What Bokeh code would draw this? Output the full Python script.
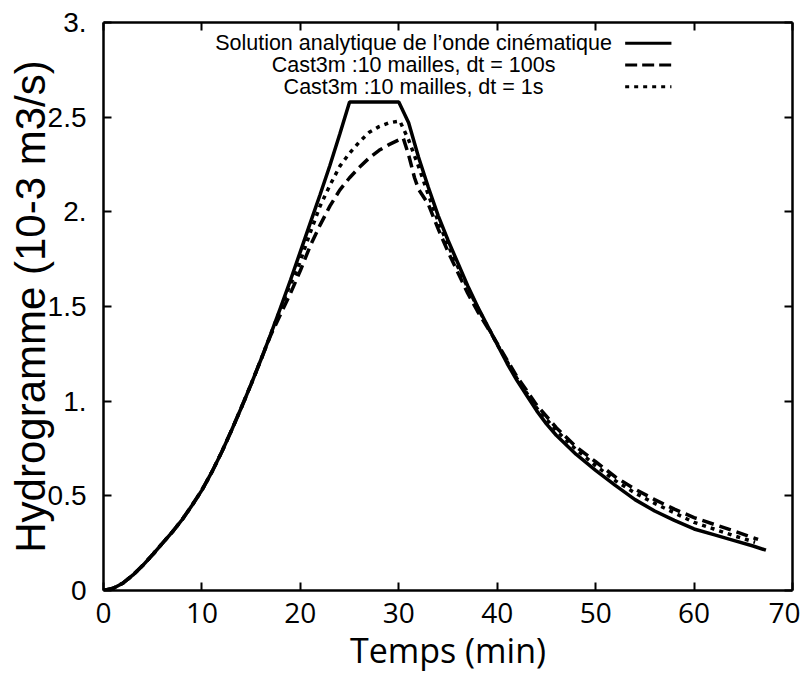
from bokeh.plotting import figure
from bokeh.models import LinearAxis, FixedTicker, Range1d
from bokeh.core.properties import value
from bokeh.embed import file_html
from bokeh.resources import INLINE

# ---- data ----
t_analytic = [0, 1, 2, 3, 4, 5, 6, 7, 8, 9, 10, 11, 12, 13, 14, 15, 16, 17, 18, 19,
              20, 21, 22, 23, 24, 25, 27, 29, 30, 31, 32, 33, 34, 35, 36, 37, 38, 39,
              40, 41, 42, 43, 44, 45, 46, 47, 48, 50, 52, 54, 56, 58, 60, 62, 64, 66, 67.3]
q_analytic = [0, 0.012, 0.04, 0.082, 0.133, 0.19, 0.25, 0.31, 0.375, 0.45, 0.53, 0.625,
              0.73, 0.845, 0.965, 1.09, 1.22, 1.355, 1.495, 1.64, 1.79, 1.94, 2.09,
              2.245, 2.41, 2.58, 2.58, 2.58, 2.58, 2.47, 2.29, 2.13, 1.98, 1.85, 1.73,
              1.61, 1.50, 1.40, 1.30, 1.20, 1.11, 1.03, 0.95, 0.88, 0.82, 0.77, 0.72,
              0.635, 0.555, 0.48, 0.42, 0.37, 0.325, 0.295, 0.265, 0.235, 0.213]

t_dt100 = [0, 1, 2, 3, 4, 5, 6, 7, 8, 9, 10, 11, 12, 13, 14, 15, 16, 17, 18, 19, 20,
           21, 22, 23, 24, 25, 26, 27, 28, 29, 30, 30.45, 31, 31.6, 32, 33, 34, 35, 36,
           37, 38, 39, 40, 42, 44, 46, 48, 50, 52, 54, 56, 58, 60, 62, 64, 66.5]
q_dt100 = [0, 0.012, 0.04, 0.082, 0.133, 0.19, 0.25, 0.31, 0.375, 0.45, 0.53, 0.625,
           0.73, 0.845, 0.965, 1.09, 1.22, 1.35, 1.46, 1.57, 1.69, 1.82, 1.93, 2.03,
           2.115, 2.18, 2.235, 2.285, 2.325, 2.355, 2.38, 2.39, 2.30, 2.18, 2.12, 2.04,
           1.91, 1.79, 1.68, 1.57, 1.475, 1.39, 1.305, 1.13, 0.98, 0.86, 0.76, 0.68,
           0.60, 0.535, 0.48, 0.43, 0.385, 0.35, 0.315, 0.27]

t_dt1 = [0, 1, 2, 3, 4, 5, 6, 7, 8, 9, 10, 11, 12, 13, 14, 15, 16, 17, 18, 19, 19.5,
         20, 21, 22, 23, 24, 25, 26, 27, 28, 29, 30.1, 31, 32, 33, 34, 35, 36, 37, 38,
         40, 42, 44, 46, 48, 50, 52, 54, 56, 58, 60, 62, 64, 66.2]
q_dt1 = [0, 0.012, 0.04, 0.082, 0.133, 0.19, 0.25, 0.31, 0.375, 0.45, 0.53, 0.625,
         0.73, 0.845, 0.965, 1.09, 1.22, 1.355, 1.49, 1.62, 1.67, 1.74, 1.89, 2.03,
         2.14, 2.24, 2.31, 2.37, 2.42, 2.45, 2.47, 2.48, 2.38, 2.24, 2.09, 1.95, 1.825,
         1.71, 1.60, 1.495, 1.30, 1.12, 0.965, 0.845, 0.745, 0.66, 0.58, 0.515, 0.46,
         0.41, 0.36, 0.325, 0.29, 0.255]

x_ticks = [0, 10, 20, 30, 40, 50, 60, 70]
y_ticks = [0, 0.5, 1.0, 1.5, 2.0, 2.5, 3.0]
y_tick_labels = ["0", "0.5", "1.", "1.5", "2.", "2.5", "3."]

legend_labels = ["Solution analytique de l\u2019onde cin\u00e9matique",
                 "Cast3m :10 mailles, dt = 100s",
                 "Cast3m :10 mailles, dt = 1s"]

x_title = "Temps (min)"
y_title = "Hydrogramme (10-3 m3/s)"

# ---- figure ----
FONT = "Liberation Sans"
XFONT = "Open Sans"

p = figure(frame_width=689, frame_height=568,
           x_range=Range1d(0, 70), y_range=Range1d(0, 3),
           output_backend="svg", toolbar_location=None,
           min_border_left=103, min_border_right=8,
           min_border_top=22, min_border_bottom=60,
           background_fill_color="white", border_fill_color="white")
p.outline_line_color = None
p.grid.visible = False

LW = 2.5
for ax in p.xaxis:
    ax.ticker = FixedTicker(ticks=x_ticks)
    ax.major_label_text_font = XFONT
    ax.major_label_text_font_size = "28px"
    ax.major_label_standoff = 12
    ax.axis_label = x_title
    ax.axis_label_text_font = XFONT
    ax.axis_label_text_font_size = "34px"
    ax.axis_label_text_font_style = "normal"
    ax.axis_label_standoff = 1
for ax in p.yaxis:
    ax.ticker = FixedTicker(ticks=y_ticks)
    ax.major_label_overrides = {v: s for v, s in zip(y_ticks, y_tick_labels)}
    ax.major_label_text_font = FONT
    ax.major_label_text_font_size = "28px"
    ax.major_label_standoff = 17
    ax.axis_label = y_title
    ax.axis_label_text_font = FONT
    ax.axis_label_text_font_size = "42px"
    ax.axis_label_text_font_style = "normal"
    ax.axis_label_standoff = -9

top = LinearAxis(ticker=FixedTicker(ticks=x_ticks), major_label_text_font_size="1px",
                 major_label_text_color=None, major_label_standoff=0)
right = LinearAxis(ticker=FixedTicker(ticks=y_ticks), major_label_text_font_size="1px",
                   major_label_text_color=None, major_label_standoff=0)
p.add_layout(top, "above")
p.add_layout(right, "right")

for ax in [p.below[0], p.left[0], top, right]:
    ax.axis_line_width = LW
    ax.axis_line_color = "black"
    ax.major_tick_in = 8
    ax.major_tick_out = 0
    ax.major_tick_line_width = 2
    ax.minor_tick_line_color = None
    ax.axis_label_text_color = "black"
for ax in [p.below[0], p.left[0]]:
    ax.major_label_text_color = "black"

# ---- curves ----
p.line(t_analytic, q_analytic, line_color="black", line_width=3.5)
p.line(t_dt100, q_dt100, line_color="black", line_width=3.5, line_dash="12 6")
p.line(t_dt1, q_dt1, line_color="black", line_width=3.5, line_dash="4 5")

# ---- legend (labels left, samples right) ----
leg_x = 31.5
leg_y = [2.89, 2.775, 2.66]
dashes = ["solid", "12 5", "4 5"]
p.text(x=[leg_x] * 3, y=leg_y, text=legend_labels, text_font=value(FONT),
       text_font_size="21.5px", text_align="center", text_baseline="middle",
       text_color="black")
for yy, d in zip(leg_y, dashes):
    p.line([53.0, 57.7], [yy, yy], line_color="black", line_width=3, line_dash=d)

open("out.html", "w").write(file_html(p, INLINE))
